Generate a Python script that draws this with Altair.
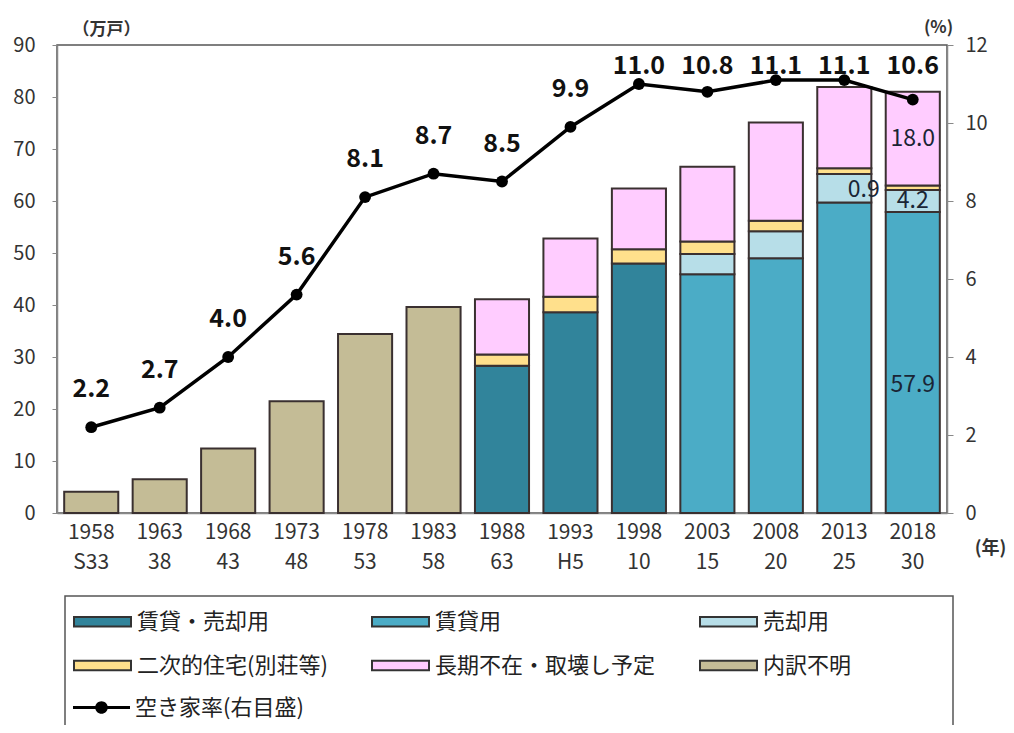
import altair as alt
import pandas as pd

years = ["1958", "1963", "1968", "1973", "1978", "1983", "1988",
         "1993", "1998", "2003", "2008", "2013", "2018"]
eras = ["S33", "38", "43", "48", "53", "58", "63", "H5", "10", "15", "20", "25", "30"]
rate = [2.2, 2.7, 4.0, 5.6, 8.1, 8.7, 8.5, 9.9, 11.0, 10.8, 11.1, 11.1, 10.6]

cat_names = ["賃貸・売却用", "賃貸用", "売却用", "二次的住宅(別荘等)", "長期不在・取壊し予定", "内訳不明"]
rate_name = "空き家率(右目盛)"

chintai_baikyaku = [0, 0, 0, 0, 0, 0, 28.3, 38.6, 48.0, 0, 0, 0, 0]
chintai = [0, 0, 0, 0, 0, 0, 0, 0, 0, 45.9, 49.0, 59.7, 57.9]
baikyaku = [0, 0, 0, 0, 0, 0, 0, 0, 0, 3.9, 5.2, 5.5, 4.2]
niji = [0, 0, 0, 0, 0, 0, 2.2, 3.0, 2.7, 2.4, 2.0, 1.1, 0.9]
choki = [0, 0, 0, 0, 0, 0, 10.6, 11.2, 11.7, 14.4, 18.9, 15.6, 18.0]
fumei = [4.1, 6.5, 12.4, 21.5, 34.4, 39.6, 0, 0, 0, 0, 0, 0, 0]

colors = ["#31849B", "#4BACC6", "#B7DEE8", "#FFE08C", "#FFCCFF", "#C4BC96"]
rate_color = "#000000"

series = [chintai_baikyaku, chintai, baikyaku, niji, choki, fumei]
xlabs = [f"{y} {e}" for y, e in zip(years, eras)]

rows = []
for ci, (name, vals) in enumerate(zip(cat_names, series)):
    for y, xl, v in zip(years, xlabs, vals):
        if v > 0:
            rows.append({"year": y, "xlab": xl, "cat": name, "ord": ci, "value": v})
bars_df = pd.DataFrame(rows)

rate_df = pd.DataFrame({"year": years, "xlab": xlabs, "rate": rate, "cat": rate_name})

FONT = "Noto Sans CJK JP"

rect_path = "M-1,-0.17L1,-0.17L1,0.17L-1,0.17Z"
line_path = ("M-1,-0.05L1,-0.05L1,0.05L-1,0.05Z "
             "M0.22,0A0.22,0.22 0 1,1 -0.22,0A0.22,0.22 0 1,1 0.22,0Z")

legend_common = dict(
    title=None, orient="none", legendX=16, direction="horizontal",
    symbolSize=3249, labelFontSize=22, labelColor="#222", labelOffset=5,
    labelFont=FONT, symbolOpacity=1, labelLimit=400,
)

bar_legend = alt.Legend(
    legendY=547, columns=3, columnPadding=40, rowPadding=3,
    symbolType=rect_path, symbolStrokeColor="#333", symbolStrokeWidth=2,
    **legend_common,
)
rate_legend = alt.Legend(
    legendY=634, symbolType=line_path, symbolStrokeWidth=0,
    symbolFillColor=rate_color, **legend_common,
)

x_enc = alt.X(
    "xlab:N", sort=xlabs,
    scale=alt.Scale(paddingInner=0.21, paddingOuter=0.105),
    axis=alt.Axis(
        labelExpr="split(datum.label, ' ')", labelAngle=0, labelFontSize=21,
        labelLineHeight=30, labelPadding=8, labelColor="#333", ticks=False,
        domainColor="#888", domainWidth=1.5,
        title="(年)", titleX=933, titleY=35, titleAlign="center",
        titleBaseline="middle", titleFontSize=18, titleFontWeight="bold",
        titleColor="#333",
    ),
)

bars = alt.Chart(bars_df).mark_bar(stroke="#3a3030", strokeWidth=2).encode(
    x=x_enc,
    y=alt.Y(
        "value:Q", stack="zero",
        scale=alt.Scale(domain=[0, 90], nice=False),
        axis=alt.Axis(
            values=list(range(0, 91, 10)), labelFontSize=20, labelColor="#333",
            tickSize=5, tickColor="#888", labelPadding=17, domainColor="#888",
            domainWidth=1.5, grid=False,
            title="（万戸）", titleAngle=0, titleX=15, titleY=-16,
            titleAlign="left", titleBaseline="middle", titleFontSize=17,
            titleFontWeight="bold", titleColor="#333",
        ),
    ),
    color=alt.Color("cat:N", scale=alt.Scale(domain=cat_names, range=colors),
                    legend=bar_legend),
    order=alt.Order("ord:Q"),
)

seg_base = alt.Chart(bars_df).transform_stack(
    stack="value", as_=["y0", "y1"], groupby=["xlab"],
    sort=[alt.SortField("ord", order="ascending")],
).transform_calculate(
    mid="(datum.y0 + datum.y1) / 2"
).transform_filter("datum.year === '2018'")

seg_enc = dict(x=alt.X("xlab:N", sort=xlabs), y=alt.Y("mid:Q"),
               text=alt.Text("value:Q", format=".1f"))
seg_style = dict(fontSize=23, color="#1a2535", baseline="middle", align="center")

seg_mid = seg_base.transform_filter(
    f"datum.cat === '{cat_names[2]}' || datum.cat === '{cat_names[4]}'"
).mark_text(**seg_style).encode(**seg_enc)
seg_low = seg_base.transform_filter(
    f"datum.cat === '{cat_names[1]}'"
).mark_text(dy=23, **seg_style).encode(**seg_enc)
seg_side = seg_base.transform_filter(
    f"datum.cat === '{cat_names[3]}'"
).mark_text(dx=-49, dy=2, **seg_style).encode(**seg_enc)

frame = alt.Chart(pd.DataFrame({"k": [0]})).mark_rect(
    fillOpacity=0, stroke="#555", strokeWidth=1.5
).encode(x=alt.value(8), x2=alt.value(896), y=alt.value(551), y2=alt.value(700))

bar_group = alt.layer(bars, seg_mid, seg_low, seg_side, frame)

rate_y = alt.Y(
    "rate:Q", scale=alt.Scale(domain=[0, 12], nice=False),
    axis=alt.Axis(
        orient="right", values=list(range(0, 13, 2)), labelFontSize=20,
        labelColor="#333", tickSize=6, tickColor="#888", labelPadding=12,
        domainColor="#888", domainWidth=1.5, grid=False,
        title="(%)", titleAngle=0, titleX=-9, titleY=-18, titleAlign="center",
        titleBaseline="middle", titleFontSize=17, titleFontWeight="bold",
        titleColor="#333",
    ),
)

line = alt.Chart(rate_df).mark_line(strokeWidth=3.5, color=rate_color).encode(
    x=alt.X("xlab:N", sort=xlabs), y=rate_y,
)
points = alt.Chart(rate_df).mark_circle(size=140, opacity=1).encode(
    x=alt.X("xlab:N", sort=xlabs), y=alt.Y("rate:Q"),
    color=alt.Color("cat:N", scale=alt.Scale(domain=[rate_name], range=[rate_color]),
                    legend=rate_legend),
)
rate_labels = alt.Chart(rate_df).transform_calculate(
    ly="min(datum.rate + 0.97, 11.45)"
).mark_text(fontSize=25, fontWeight="bold", color="#111", baseline="middle").encode(
    x=alt.X("xlab:N", sort=xlabs), y=alt.Y("ly:Q"),
    text=alt.Text("rate:Q", format=".1f"),
)

rate_group = alt.layer(line, points, rate_labels)

chart = alt.layer(bar_group, rate_group).resolve_scale(
    y="independent", color="independent"
).properties(
    width=890, height=468,
    autosize=alt.AutoSizeParams(type="none"),
    padding={"left": 49, "top": 37, "right": 59, "bottom": 212},
).configure(
    font=FONT
).configure_view(
    stroke="#555", strokeWidth=1.5
)

chart.save("out.html", embed_options={"renderer": "svg", "actions": False})
